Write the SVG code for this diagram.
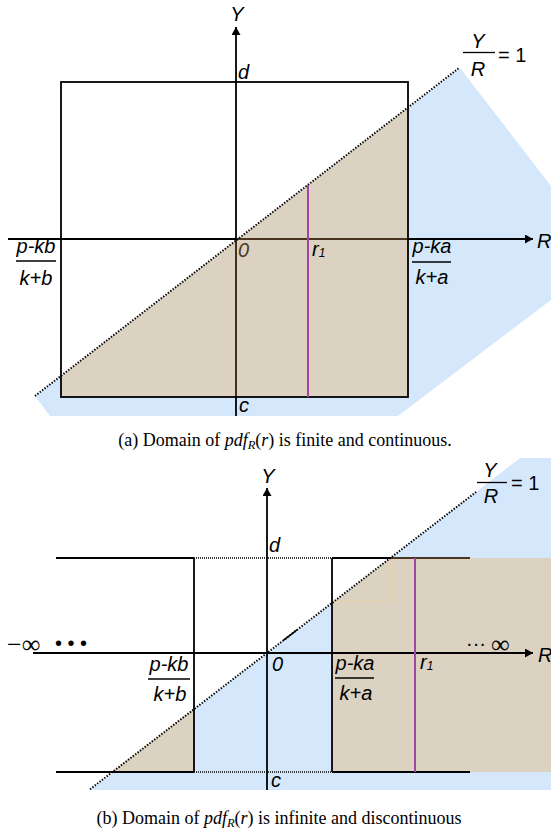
<svg xmlns="http://www.w3.org/2000/svg" width="551" height="832" viewBox="0 0 551 832">
<style>
.ln{stroke:#000;stroke-width:1.8;fill:none}
.br{stroke:#4a3520;stroke-width:1.8;fill:none}
.dot{stroke:#000;stroke-width:2;fill:none;stroke-dasharray:1.4 1.6}
.pu{stroke:#a047a6;stroke-width:2;fill:none}
.blue{fill:#d5e8fb;stroke:none}
.tan{fill:#dcd2c2;stroke:none}
.faint{stroke:#e9cfa6;stroke-width:0.8;fill:none}
.lb{font-family:"Liberation Sans",Arial,sans-serif;font-style:italic;font-size:20px;fill:#000}
.num{font-family:"Liberation Sans",Arial,sans-serif;font-size:20px;fill:#000}
.cap{font-family:"Liberation Serif","Times New Roman",serif;font-size:18px;fill:#000}
.inf{font-family:"Liberation Serif","DejaVu Serif",serif;font-size:26px;fill:#000}
</style>
<defs>
<marker id="arr" markerUnits="userSpaceOnUse" markerWidth="10" markerHeight="10" refX="8" refY="4.5" orient="auto">
<path d="M0,0 L8,4.5 L0,9 Z" fill="#000"/>
</marker>
</defs>

<!-- (a) -->
<g id="regions-a">
<polygon class="blue" points="35,396 460,68 551,186 551,300 398,416 50,416"/>
<polygon class="tan" points="61,376 236,240.5 408,107.4 408,397 61,397"/>
</g>
<g id="connectors-a">
<rect class="ln" x="61" y="82" width="347" height="315"/>
<line class="ln" x1="8" y1="239" x2="533" y2="239" marker-end="url(#arr)"/>
<line class="br" x1="236" y1="239" x2="407" y2="239"/>
<line class="ln" x1="236" y1="416" x2="236" y2="27" marker-end="url(#arr)"/>
<line class="br" x1="236" y1="240" x2="236" y2="396"/>
<line class="dot" x1="35" y1="396" x2="459" y2="68"/>
<line class="pu" x1="308" y1="185" x2="308" y2="397"/>
</g>
<g id="labels-a">
<text class="lb" x="237" y="21" text-anchor="middle">Y</text>
<text class="lb" x="238" y="79">d</text>
<text class="lb" x="478" y="48" text-anchor="middle">Y</text>
<line class="ln" x1="463" y1="52.5" x2="495" y2="52.5" style="stroke-width:1.3"/>
<text class="lb" x="478" y="76" text-anchor="middle">R</text>
<text class="num" x="498" y="62">= 1</text>
<text class="lb" x="36" y="253" text-anchor="middle">p-kb</text>
<line class="ln" x1="16" y1="261" x2="56" y2="261" style="stroke-width:1.3"/>
<text class="lb" x="36" y="285" text-anchor="middle">k+b</text>
<text class="lb" x="238" y="257" style="fill:#4e3a22">0</text>
<text class="lb" x="312" y="256">r<tspan font-size="12" dy="1">1</tspan></text>
<text class="lb" x="432" y="253" text-anchor="middle">p-ka</text>
<line class="ln" x1="412" y1="262" x2="451" y2="262" style="stroke-width:1.3"/>
<text class="lb" x="432" y="284" text-anchor="middle">k+a</text>
<text class="lb" x="537" y="248">R</text>
<text class="lb" x="239" y="412">c</text>
</g>
<text class="cap" x="285" y="446" text-anchor="middle">(a) Domain of <tspan font-style="italic">pdf</tspan><tspan font-style="italic" font-size="12.5" dy="3">R</tspan><tspan dy="-3">(</tspan><tspan font-style="italic">r</tspan>) is finite and continuous.</text>

<!-- (b) -->
<g id="regions-b">
<polygon class="blue" points="90,790 520,458 551,458 551,790"/>
<polygon class="tan" points="332,603 390.4,558 551,558 551,772 332,772"/>
<polygon class="tan" points="112.5,772 194,709.2 194,772"/>
<line class="faint" x1="390.4" y1="558" x2="390.4" y2="601"/>
<line class="faint" x1="332" y1="601" x2="390.4" y2="601"/>
<line class="faint" x1="112.5" y1="772" x2="194" y2="709.2"/>
</g>
<g id="connectors-b">
<line class="ln" x1="56" y1="558" x2="194" y2="558"/>
<line class="dot" x1="194" y1="558" x2="332" y2="558" style="stroke-width:1.3;stroke-dasharray:1 1"/>
<line class="ln" x1="332" y1="558" x2="391" y2="558"/>
<line class="br" x1="391" y1="558" x2="470" y2="558"/>
<line class="ln" x1="56" y1="772" x2="194" y2="772"/>
<line class="dot" x1="194" y1="772" x2="332" y2="772" style="stroke-width:1.3;stroke-dasharray:1 1"/>
<line class="ln" x1="332" y1="772" x2="470" y2="772"/>
<line class="ln" x1="194" y1="558" x2="194" y2="772"/>
<line class="ln" x1="332" y1="558" x2="332" y2="772"/>
<line class="ln" x1="33" y1="653" x2="533" y2="653" marker-end="url(#arr)"/>
<line class="ln" x1="267" y1="790" x2="267" y2="488" marker-end="url(#arr)"/>
<line class="dot" x1="90" y1="789.3" x2="477" y2="491.3"/>
<line class="ln" x1="283" y1="640.7" x2="297" y2="629.9" style="stroke-width:1.5"/>
<line class="pu" x1="415" y1="558" x2="415" y2="772"/>
</g>
<g id="labels-b">
<text class="lb" x="268" y="483" text-anchor="middle">Y</text>
<text class="lb" x="269" y="552">d</text>
<text class="lb" x="490" y="477" text-anchor="middle">Y</text>
<line class="ln" x1="477" y1="482.5" x2="507" y2="482.5" style="stroke-width:1.3"/>
<text class="lb" x="491" y="503" text-anchor="middle">R</text>
<text class="num" x="511" y="490">= 1</text>
<text class="inf" x="7" y="653">−∞</text>
<text class="num" x="55" y="650" font-size="12">• • •</text>
<text class="num" x="466" y="650">···</text>
<text class="inf" x="491" y="653">∞</text>
<text class="lb" x="169" y="671" text-anchor="middle">p-kb</text>
<line class="ln" x1="148" y1="679" x2="190" y2="679" style="stroke-width:1.3"/>
<text class="lb" x="170" y="701" text-anchor="middle">k+b</text>
<text class="lb" x="272" y="671">0</text>
<text class="lb" x="355" y="670" text-anchor="middle">p-ka</text>
<line class="ln" x1="335" y1="678" x2="374" y2="678" style="stroke-width:1.3"/>
<text class="lb" x="356" y="700" text-anchor="middle">k+a</text>
<text class="lb" x="420" y="669">r<tspan font-size="12" dy="1">1</tspan></text>
<text class="lb" x="538" y="662">R</text>
<text class="lb" x="271" y="787">c</text>
</g>
<text class="cap" x="279" y="824" text-anchor="middle">(b) Domain of <tspan font-style="italic">pdf</tspan><tspan font-style="italic" font-size="12.5" dy="3">R</tspan><tspan dy="-3">(</tspan><tspan font-style="italic">r</tspan>) is infinite and discontinuous</text>
</svg>
